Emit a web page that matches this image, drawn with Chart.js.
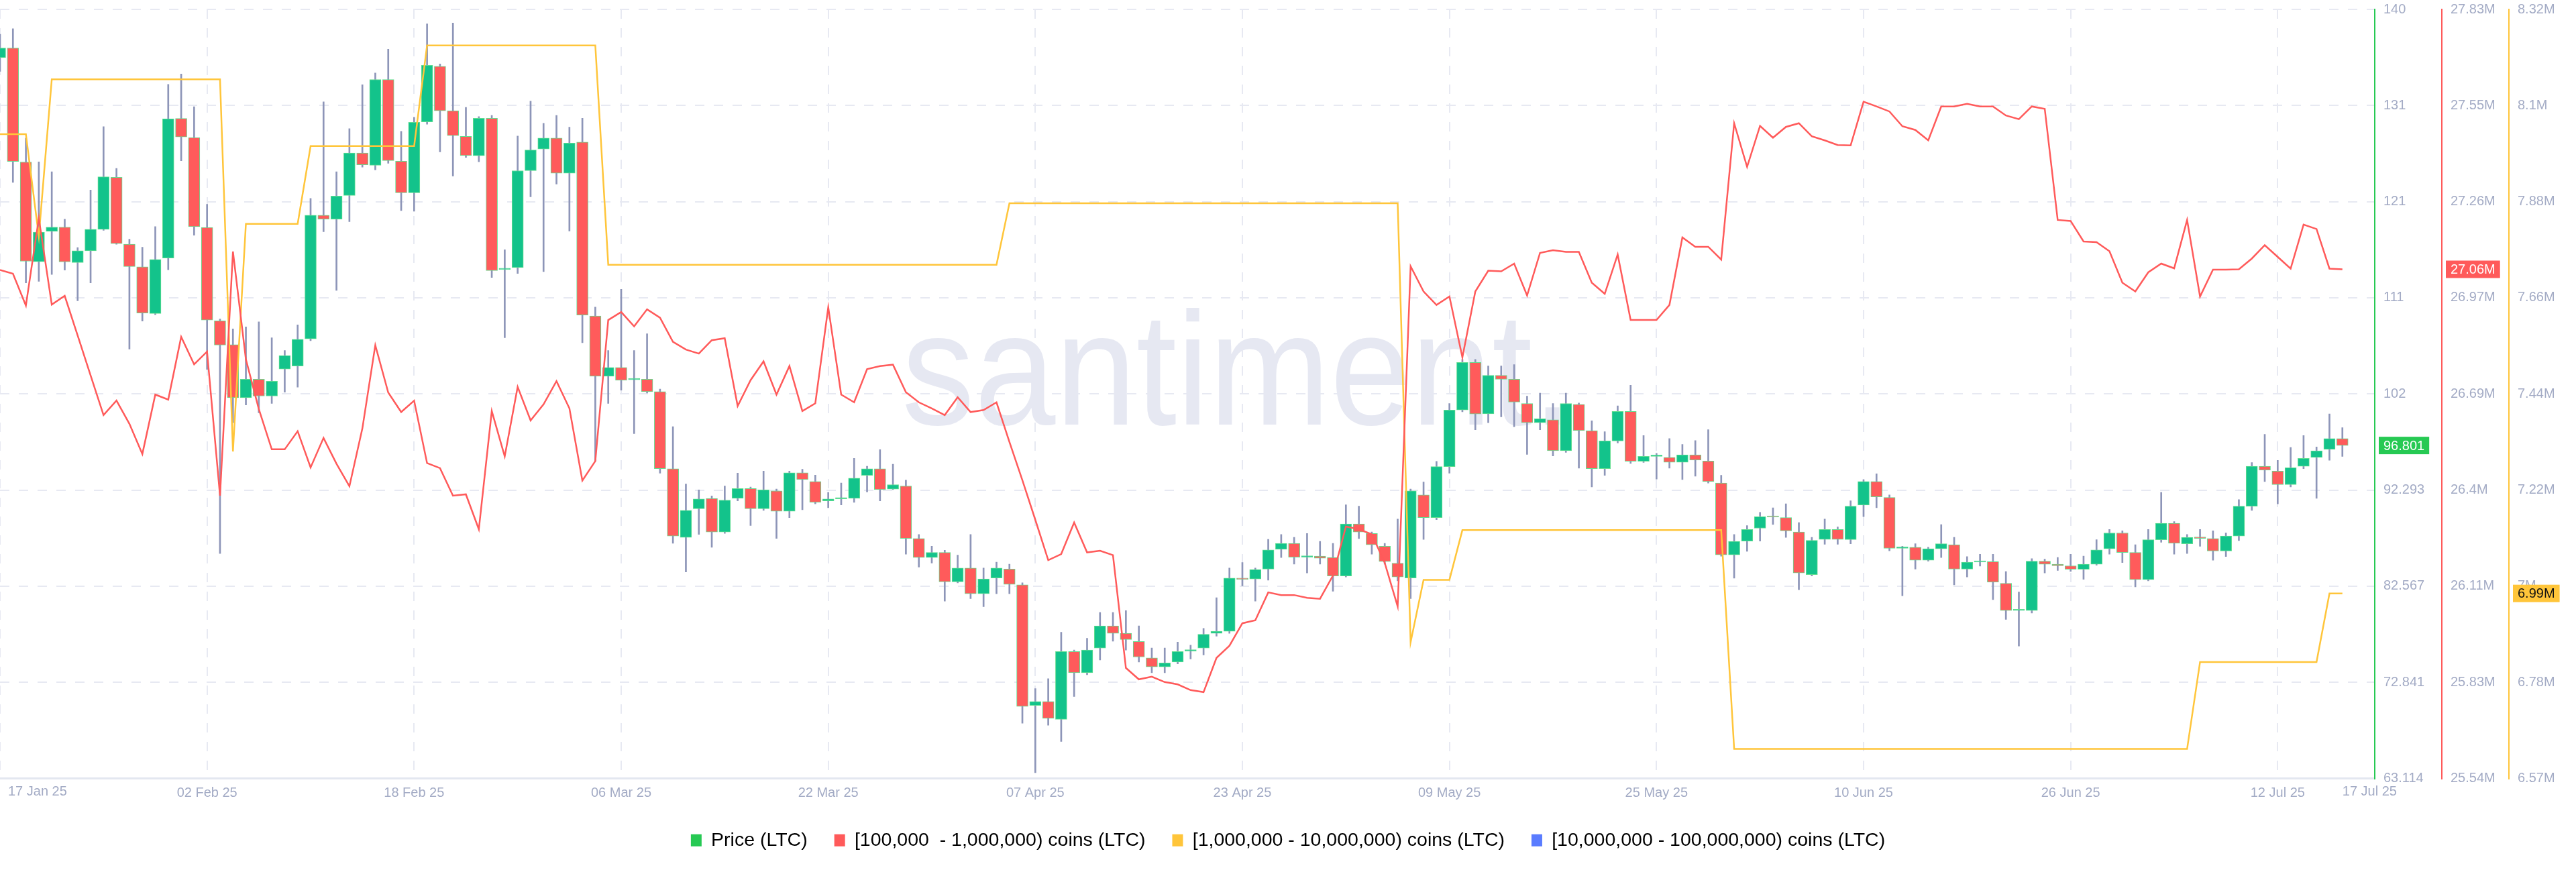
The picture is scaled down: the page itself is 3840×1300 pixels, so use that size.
<!DOCTYPE html>
<html>
<head>
<meta charset="utf-8">
<title>LTC price and holder supply</title>
<script src="https://cdn.jsdelivr.net/npm/chart.js@4.4.1/dist/chart.umd.min.js"></script>
<style>
  html, body { margin: 0; padding: 0; background: #fff; }
  #wrap { width: 3840px; height: 1300px; position: relative; }
</style>
</head>
<body>
<div id="wrap"><canvas id="chart"></canvas></div>
<script>
// daily candles, index 0 = 17 Jan 25, last = 17 Jul 25
const open = [
  136.04,137.01,125.47,115.40,118.47,118.9,115.3,116.5,118.67,123.93,
  117.16,114.88,110.15,115.76,129.89,127.96,118.86,109.41,107.0,101.64,
  103.5,101.8,104.54,104.84,107.58,120.1,119.7,122.1,126.4,125.15,
  133.83,125.56,122.37,129.54,135.16,130.67,128.08,126.11,129.9,114.6,
  114.8,124.6,126.8,127.9,124.35,127.5,109.9,103.8,104.7,103.45,
  103.5,102.25,94.45,87.5,90.4,91.45,88.05,91.45,92.45,90.4,
  92.2,90.15,94.03,93.15,91.2,91.4,91.45,93.78,94.45,92.38,
  92.7,87.38,85.47,85.98,83.0,84.4,81.8,83.4,84.3,82.7,
  70.5,70.9,69.1,75.95,73.8,76.3,78.55,77.8,76.97,75.3,
  74.4,74.9,76.0,76.3,77.8,78.0,83.38,83.3,84.3,86.3,
  86.9,85.5,85.6,85.47,83.6,88.86,87.9,86.6,84.9,83.4,
  91.8,89.5,94.66,100.4,105.2,100.0,103.9,103.5,101.05,99.1,
  99.4,96.27,100.96,98.3,94.45,97.26,100.25,95.2,95.7,95.6,
  95.1,95.85,95.23,93.0,85.74,87.13,88.43,89.65,89.5,88.05,
  83.74,87.3,88.3,87.28,90.77,93.15,91.54,86.4,86.5,85.2,
  86.35,86.76,84.3,85.0,85.05,82.86,80.1,80.1,85.09,84.79,
  84.63,84.27,84.79,86.35,87.95,85.98,83.23,87.27,88.93,86.86,
  87.5,87.38,86.13,87.64,90.66,94.7,94.2,92.84,94.7,95.6,
  96.4,97.5
];
const high = [
  138.4,138.96,127.9,125.5,124.5,119.7,116.83,122.64,129.05,124.84,
  117.68,116.86,118.94,133.34,134.38,131.08,121.2,109.6,108.6,108.8,
  109.3,107.7,106.4,109.0,121.8,131.57,124.5,128.85,133.3,134.49,
  136.9,128.58,130.0,139.46,135.4,139.54,131.0,130.07,130.2,116.6,
  128.1,131.63,129.4,130.2,129.0,129.9,110.8,106.4,112.6,106.4,
  108.1,102.5,98.7,92.9,92.3,91.7,92.7,94.0,92.6,94.2,
  92.4,94.2,94.4,93.8,92.05,93.0,95.5,94.7,96.38,94.9,
  93.3,87.8,86.6,86.2,85.7,87.8,84.4,85.0,84.8,82.9,
  72.2,73.2,77.9,76.1,77.3,79.9,79.9,80.1,78.55,76.3,
  76.3,76.9,76.6,78.3,81.4,84.4,84.96,84.4,87.3,87.8,
  87.5,87.9,87.1,86.9,90.8,90.66,88.05,86.9,89.35,92.4,
  93.1,95.2,101.05,105.5,105.5,104.85,104.85,104.98,101.8,102.1,
  101.05,102.1,101.1,99.3,98.2,100.8,102.9,97.8,96.0,97.5,
  96.9,97.3,98.4,93.78,87.8,88.7,90.03,90.5,90.9,89.0,
  87.5,89.35,88.56,91.2,93.35,93.93,91.8,86.6,86.86,86.5,
  88.8,87.5,85.56,85.8,85.8,84.05,81.97,85.35,85.3,85.47,
  85.8,85.6,87.27,88.3,88.17,86.76,88.3,92.06,89.1,87.8,
  88.3,88.17,87.95,91.33,95.08,97.93,95.3,96.6,97.8,96.65,
  100.0,98.6
];
const low = [
  134.65,123.41,113.26,113.4,114.1,114.55,111.44,113.26,118.56,117.16,
  106.56,109.39,110.03,114.58,125.6,118.07,104.5,85.87,99.1,100.9,
  100.1,101.05,102.2,102.7,107.4,118.43,112.5,119.45,124.96,124.69,
  125.36,120.57,120.5,129.3,126.5,124.07,125.94,125.5,113.8,107.7,
  114.2,121.96,114.4,123.25,118.5,107.2,95.2,101.06,102.4,98.0,
  102.1,94.0,86.9,84.0,87.8,86.5,87.9,91.2,88.7,90.24,
  87.4,89.5,90.3,90.9,90.5,90.8,91.04,92.1,91.2,92.33,
  85.8,84.5,84.9,81.05,82.9,81.3,80.5,81.8,81.8,68.7,
  63.7,68.5,66.85,71.4,73.6,75.1,77.0,76.1,74.9,73.8,
  73.8,74.7,75.2,75.6,77.5,77.8,82.6,81.05,83.17,85.47,
  84.8,83.9,84.8,82.05,83.5,87.38,85.8,84.8,83.1,81.3,
  87.3,89.3,94.0,100.2,98.4,99.1,99.7,98.7,95.9,98.4,
  95.75,96.1,94.5,92.6,93.78,97.06,94.98,95.08,93.4,94.5,
  93.36,93.7,93.0,85.6,83.38,86.1,87.13,88.8,87.5,82.2,
  83.6,86.8,86.8,86.86,89.6,90.5,86.15,81.6,84.3,85.09,
  85.47,82.7,83.5,84.6,81.2,79.2,76.5,79.84,83.9,84.15,
  84.05,83.26,84.68,85.8,84.96,82.5,83.1,87.0,85.8,85.87,
  86.6,85.2,85.56,87.17,90.24,93.15,90.9,92.6,94.45,91.45,
  95.3,95.7
];
const close = [
  137.01,125.54,115.44,118.39,118.9,115.37,116.5,118.67,123.98,117.22,
  114.9,110.2,115.62,129.86,128.01,118.94,109.49,106.96,101.64,103.5,
  101.8,103.3,105.9,107.55,120.1,119.7,122.04,126.4,125.2,133.83,
  125.63,122.37,129.5,135.26,130.67,128.15,126.13,129.9,114.49,114.7,
  124.6,126.7,127.9,124.35,127.4,110.0,103.8,104.7,103.4,103.5,
  102.25,94.45,87.64,90.24,91.4,88.05,91.28,92.45,90.4,92.3,
  90.15,94.03,93.35,91.04,91.4,91.5,93.5,94.45,92.33,92.84,
  87.4,85.47,85.98,83.0,84.4,81.8,83.3,84.4,82.75,70.4,
  70.9,69.2,75.95,73.8,76.1,78.55,77.8,77.17,75.4,74.4,
  74.8,75.95,76.1,77.7,78.0,83.38,83.25,84.25,86.23,86.9,
  85.5,85.6,85.4,83.6,88.86,88.05,86.76,85.06,83.5,92.2,
  89.5,94.66,100.38,105.2,99.98,103.9,103.5,101.2,99.1,99.5,
  96.27,101.05,98.3,94.45,97.26,100.25,95.2,95.7,95.75,95.1,
  95.85,95.33,93.15,85.74,87.1,88.3,89.6,89.55,88.17,83.9,
  87.2,88.3,87.3,90.66,93.15,91.6,86.4,86.5,85.2,86.35,
  86.86,84.3,85.0,85.05,82.97,80.1,80.15,85.09,84.79,84.63,
  84.27,84.79,86.23,87.95,85.98,83.23,87.27,88.93,86.9,87.5,
  87.4,86.13,87.64,90.66,94.7,94.3,92.84,94.55,95.5,96.26,
  97.5,96.801
];

// supply held by [100,000 - 1,000,000) wallets, millions of LTC
const holders100k = [
  27.054,27.043,26.948,27.208,26.951,26.977,26.859,26.74,26.622,26.665,
  26.596,26.506,26.683,26.668,26.855,26.773,26.811,26.382,27.109,26.788,
  26.64,26.52,26.52,26.574,26.466,26.554,26.477,26.41,26.582,26.83,
  26.689,26.631,26.665,26.479,26.464,26.382,26.386,26.282,26.634,26.499,
  26.706,26.606,26.654,26.723,26.642,26.427,26.485,26.905,26.929,26.886,
  26.937,26.912,26.84,26.817,26.805,26.845,26.851,26.649,26.726,26.782,
  26.683,26.768,26.634,26.657,26.943,26.683,26.66,26.759,26.768,26.772,
  26.69,26.66,26.642,26.622,26.675,26.631,26.637,26.66,26.542,26.428,
  26.31,26.19,26.208,26.302,26.213,26.218,26.205,25.869,25.835,25.843,
  25.827,25.82,25.803,25.797,25.899,25.935,26.002,26.011,26.094,26.086,
  26.086,26.078,26.075,26.144,26.29,26.282,26.267,26.182,26.052,27.065,
  26.99,26.95,26.975,26.794,26.99,27.052,27.05,27.073,26.978,27.105,
  27.113,27.108,27.108,27.016,26.983,27.1,26.905,26.905,26.905,26.95,
  27.151,27.123,27.123,27.085,27.491,27.361,27.483,27.448,27.48,27.491,
  27.452,27.44,27.426,27.425,27.555,27.541,27.526,27.482,27.471,27.44,
  27.541,27.541,27.549,27.541,27.541,27.514,27.503,27.541,27.534,27.203,
  27.2,27.139,27.137,27.11,27.016,26.99,27.047,27.073,27.059,27.203,
  26.975,27.055,27.055,27.056,27.088,27.128,27.093,27.058,27.189,27.176,
  27.058,27.056
];

// supply held by [1,000,000 - 10,000,000) wallets, millions of LTC
const holders1m = [
  8.036,8.036,8.036,7.803,8.161,8.161,8.161,8.161,8.161,8.161,
  8.161,8.161,8.161,8.161,8.161,8.161,8.161,8.161,7.314,7.832,
  7.832,7.832,7.832,7.832,8.009,8.009,8.009,8.009,8.009,8.009,
  8.009,8.009,8.009,8.238,8.238,8.238,8.238,8.238,8.238,8.238,
  8.238,8.238,8.238,8.238,8.238,8.238,8.238,7.739,7.739,7.739,
  7.739,7.739,7.739,7.739,7.739,7.739,7.739,7.739,7.739,7.739,
  7.739,7.739,7.739,7.739,7.739,7.739,7.739,7.739,7.739,7.739,
  7.739,7.739,7.739,7.739,7.739,7.739,7.739,7.739,7.879,7.879,
  7.879,7.879,7.879,7.879,7.879,7.879,7.879,7.879,7.879,7.879,
  7.879,7.879,7.879,7.879,7.879,7.879,7.879,7.879,7.879,7.879,
  7.879,7.879,7.879,7.879,7.879,7.879,7.879,7.879,7.879,6.88,
  7.022,7.022,7.022,7.135,7.135,7.135,7.135,7.135,7.135,7.135,
  7.135,7.135,7.135,7.135,7.135,7.135,7.135,7.135,7.135,7.135,
  7.135,7.135,7.135,7.135,6.637,6.637,6.637,6.637,6.637,6.637,
  6.637,6.637,6.637,6.637,6.637,6.637,6.637,6.637,6.637,6.637,
  6.637,6.637,6.637,6.637,6.637,6.637,6.637,6.637,6.637,6.637,
  6.637,6.637,6.637,6.637,6.637,6.637,6.637,6.637,6.637,6.637,
  6.835,6.835,6.835,6.835,6.835,6.835,6.835,6.835,6.835,6.835,
  6.991,6.991
];

// x axis: day offsets from 17 Jan 25 and their labels
const xTickDays = [0, 16, 32, 48, 64, 80, 96, 112, 128, 144, 160, 176, 181];
const xTickLabels = ['17 Jan 25', '02 Feb 25', '18 Feb 25', '06 Mar 25', '22 Mar 25', '07 Apr 25',
  '23 Apr 25', '09 May 25', '25 May 25', '10 Jun 25', '26 Jun 25', '12 Jul 25', '17 Jul 25'];

// right-hand axes, bottom to top
const priceTickLabels = ['63.114', '72.841', '82.567', '92.293', '102', '111', '121', '131', '140'];
const redTickLabels = ['25.54M', '25.83M', '26.11M', '26.4M', '26.69M', '26.97M', '27.26M', '27.55M', '27.83M'];
const yellowTickLabels = ['6.57M', '6.78M', '7M', '7.22M', '7.44M', '7.66M', '7.88M', '8.1M', '8.32M'];

const legendNames = ['Price (LTC)', '[100,000  - 1,000,000) coins (LTC)',
  '[1,000,000 - 10,000,000) coins (LTC)', '[10,000,000 - 100,000,000) coins (LTC)'];

const UP = '#13c38b';
const DOWN = '#ff5b5b';
const EDGE = '#63de90';
const WICK = '#8d95b8';
const RED = '#ff5a5a';
const YELLOW = '#ffc53a';
const GREEN_AXIS = '#26c953';
const BLUE = '#5a7cff';
const TICK = '#a3abc5';
const GRID = '#e7e9f2';

Chart.defaults.font.family = '"Liberation Sans", Arial, Helvetica, sans-serif';

const days = open.map((_, i) => i);
const bodies = days.map(i => ({ x: i, y: [open[i], close[i]] }));
const wicks = days.map(i => ({ x: i, y: [low[i], high[i]] }));
const bodyColors = days.map(i => close[i] >= open[i] ? UP : DOWN);
const redPoints = days.map(i => ({ x: i, y: holders100k[i] }));
const yellowPoints = days.map(i => ({ x: i, y: holders1m[i] }));

function evenTicks(labels) {
  return scale => {
    const n = labels.length;
    scale.ticks = labels.map((_, i) => ({ value: scale.min + i * (scale.max - scale.min) / (n - 1) }));
  };
}

function rightAxis(min, max, weight, color, labels, withGrid) {
  return {
    type: 'linear',
    position: 'right',
    weight: weight,
    min: min,
    max: max,
    afterBuildTicks: evenTicks(labels),
    afterFit: s => { s.width = 100; s.paddingTop = 0; s.paddingBottom = 0; },
    ticks: { padding: 13, color: TICK, font: { size: 20 }, callback: (v, i) => labels[i] },
    grid: { display: withGrid, color: GRID, lineWidth: 2, drawTicks: false },
    border: { display: true, color: color, width: 2, dash: [14, 14] }
  };
}

// watermark behind the marks
const watermark = {
  id: 'watermark',
  beforeDatasetsDraw(chart) {
    const a = chart.chartArea, c = chart.ctx;
    c.save();
    c.font = '240px "Liberation Sans", Arial, sans-serif';
    c.fillStyle = '#e6e8f2';
    c.textAlign = 'center';
    c.textBaseline = 'alphabetic';
    c.fillText('santiment.', a.left + a.width * 0.521, a.top + a.height * 0.54, 1000);
    c.restore();
  }
};

// first and last date labels sit left-aligned at their day
const edgeDates = {
  id: 'edgeDates',
  afterDraw(chart) {
    const s = chart.scales.x, c = chart.ctx;
    const last = xTickDays.length - 1;
    c.save();
    c.font = '20px "Liberation Sans", Arial, sans-serif';
    c.fillStyle = TICK;
    c.textAlign = 'left';
    c.textBaseline = 'top';
    c.fillText(xTickLabels[0], s.getPixelForValue(xTickDays[0]) + 12, s.top + 10);
    c.fillText(xTickLabels[last], s.getPixelForValue(xTickDays[last]), s.top + 10);
    c.restore();
  }
};

// last-value badges on the three axes
const badges = {
  id: 'badges',
  afterDraw(chart) {
    const c = chart.ctx;
    const n = close.length - 1;
    const items = [
      ['yPrice', close[n], close[n].toFixed(3), GREEN_AXIS, '#ffffff'],
      ['yRed', holders100k[n], holders100k[n].toFixed(2) + 'M', RED, '#ffffff'],
      ['yYellow', holders1m[n], holders1m[n].toFixed(2) + 'M', YELLOW, '#111111']
    ];
    c.save();
    c.font = '20px "Liberation Sans", Arial, sans-serif';
    c.textBaseline = 'middle';
    c.textAlign = 'left';
    items.forEach(([id, v, text, bg, fg]) => {
      const s = chart.scales[id];
      const y = s.getPixelForValue(v);
      const w = c.measureText(text).width + 14;
      c.fillStyle = bg;
      c.fillRect(s.left + 6, y - 13, w, 26);
      c.fillStyle = fg;
      c.fillText(text, s.left + 13, y + 1);
    });
    c.restore();
  }
};

new Chart(document.getElementById('chart'), {
  type: 'line',
  data: {
    datasets: [
      { type: 'line', label: legendNames[1], data: redPoints, yAxisID: 'yRed', borderColor: RED,
        borderWidth: 2.5, pointRadius: 0, tension: 0, order: 0 },
      { type: 'line', label: legendNames[2], data: yellowPoints, yAxisID: 'yYellow', borderColor: YELLOW,
        borderWidth: 2.5, pointRadius: 0, tension: 0, order: 0 },
      { type: 'line', label: legendNames[3], data: [], yAxisID: 'yRed', borderColor: BLUE,
        borderWidth: 2.5, pointRadius: 0, order: 0 },
      { type: 'bar', label: legendNames[0], data: bodies, yAxisID: 'yPrice', backgroundColor: bodyColors,
        borderColor: EDGE, borderWidth: 1, borderSkipped: false, barThickness: 17, minBarLength: 2,
        grouped: false, order: 1 },
      { type: 'bar', label: 'wick', data: wicks, yAxisID: 'yPrice', backgroundColor: WICK,
        borderWidth: 0, barThickness: 2, grouped: false, order: 2 }
    ]
  },
  options: {
    responsive: true,
    maintainAspectRatio: false,
    animation: false,
    devicePixelRatio: 1,
    layout: { padding: { top: 14, left: 0, right: 0, bottom: 23 } },
    scales: {
      x: {
        type: 'linear',
        min: 0,
        max: 183.5,
        offset: false,
        afterBuildTicks: s => { s.ticks = xTickDays.map(v => ({ value: v })); },
        afterFit: s => { s.paddingLeft = 0; s.paddingRight = 0; s.height = 38; },
        ticks: {
          autoSkip: false, maxRotation: 0, padding: 10, color: TICK, font: { size: 20 },
          callback: (v, i) => (i === 0 || i === xTickLabels.length - 1) ? '' : xTickLabels[i]
        },
        grid: {
          offset: false, lineWidth: 2, drawTicks: false,
          color: c => c.index === xTickDays.length - 1 ? 'rgba(0,0,0,0)' : GRID
        },
        border: { display: true, color: '#e3e7f0', width: 3, dash: [14, 14] }
      },
      yPrice: rightAxis(63.114, 140.922, 0, GREEN_AXIS, priceTickLabels, true),
      yRed: rightAxis(25.54, 27.83, 1, RED, redTickLabels, false),
      yYellow: rightAxis(6.57, 8.32, 2, YELLOW, yellowTickLabels, false)
    },
    plugins: {
      tooltip: { enabled: false },
      legend: {
        position: 'bottom',
        onClick: null,
        labels: {
          boxWidth: 16,
          boxHeight: 18,
          padding: 40,
          color: '#1b1b2f',
          font: { size: 28.5 },
          generateLabels: () => [GREEN_AXIS, RED, YELLOW, BLUE].map((col, i) => ({
            text: legendNames[i], fillStyle: col, strokeStyle: col, lineWidth: 0, hidden: false, datasetIndex: i
          }))
        }
      }
    }
  },
  plugins: [watermark, edgeDates, badges]
});
</script>
</body>
</html>
